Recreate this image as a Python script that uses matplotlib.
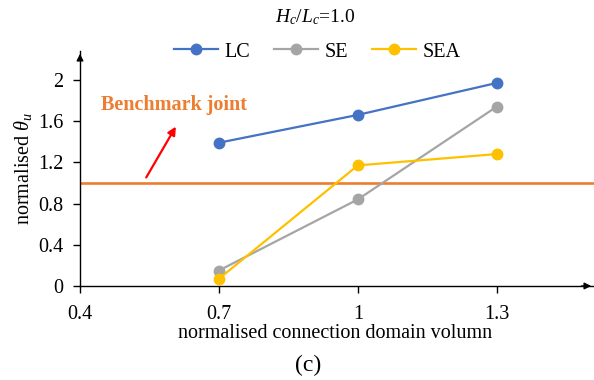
import matplotlib
matplotlib.use("Agg")
import matplotlib.pyplot as plt

plt.rcParams["font.family"] = ["Liberation Serif", "DejaVu Serif"]
plt.rcParams["mathtext.fontset"] = "custom"
plt.rcParams["mathtext.rm"] = "Liberation Serif"
plt.rcParams["mathtext.it"] = "Liberation Serif:italic"

# data
volume = [0.7, 1.0, 1.3]
lc = [1.39, 1.66, 1.97]
se = [0.15, 0.84, 1.74]
sea = [0.07, 1.17, 1.28]
benchmark = 1.0

x_ticks = [0.4, 0.7, 1.0, 1.3]
x_labels = ["0.4", "0.7", "1", "1.3"]
y_ticks = [0, 0.4, 0.8, 1.2, 1.6, 2.0]
y_labels = ["0", "0.4", "0.8", "1.2", "1.6", "2"]

fig = plt.figure(figsize=(5.94, 3.80), dpi=100)
ax = fig.add_axes([0.1347, 0.2474, 0.8653, 0.6184])

ax.axhline(benchmark, color="#ED7D31", lw=1.9, zorder=1)
ax.plot(volume, lc, "-o", color="#4472C4", lw=1.6, ms=7.5, label="LC", zorder=3)
ax.plot(volume, se, "-o", color="#A5A5A5", lw=1.6, ms=7.5, label="SE", zorder=3)
ax.plot(volume, sea, "-o", color="#FFC000", lw=1.6, ms=7.5, label="SEA", zorder=4)

ax.set_xlim(0.4, 1.51)
ax.set_ylim(0, 2.28)
ax.set_xticks(x_ticks, x_labels)
ax.set_yticks(y_ticks, y_labels)
ax.tick_params(labelsize=14.5, length=5, width=1)
ax.tick_params(axis="x", pad=9)
ax.tick_params(axis="y", pad=7)
for s in ["top", "right"]:
    ax.spines[s].set_visible(False)
for s in ["left", "bottom"]:
    ax.spines[s].set_linewidth(1)

# axis arrows
ax.annotate("", xy=(1.0, 0), xytext=(0.97, 0), xycoords="axes fraction",
            arrowprops=dict(arrowstyle="-|>", color="black", lw=1, mutation_scale=10))
ax.annotate("", xy=(0, 1.0), xytext=(0, 0.95), xycoords="axes fraction",
            arrowprops=dict(arrowstyle="-|>", color="black", lw=1, mutation_scale=10))

# benchmark note
ax.text(0.445, 1.757, "Benchmark joint", color="#ED7D31", fontsize=14.5,
        fontweight="bold", va="center", ha="left")
ax.annotate("", xy=(0.61, 1.57), xytext=(0.54, 1.03),
            arrowprops=dict(arrowstyle="-|>", color="red", lw=1.6, mutation_scale=12))

ax.set_ylabel(r"normalised $\theta_u$", fontsize=14.5, labelpad=3)
fig.text(335 / 594, 1 - 333 / 380, "normalised connection domain volumn",
         fontsize=14.5, ha="center", va="center")
fig.text(308 / 594, 1 - 365 / 380, "(c)", fontsize=17, ha="center", va="center")
fig.text(315 / 594, 1 - 17 / 380, r"$H_c/L_c$=1.0", fontsize=14,
         ha="center", va="center")

fig.legend(loc="center", bbox_to_anchor=(317 / 594, 1 - 52 / 380), ncol=3,
           frameon=False, fontsize=14.5, handlelength=2.2, columnspacing=1.2,
           handletextpad=0.3, borderpad=0)

fig.savefig("out.png", dpi=100)
